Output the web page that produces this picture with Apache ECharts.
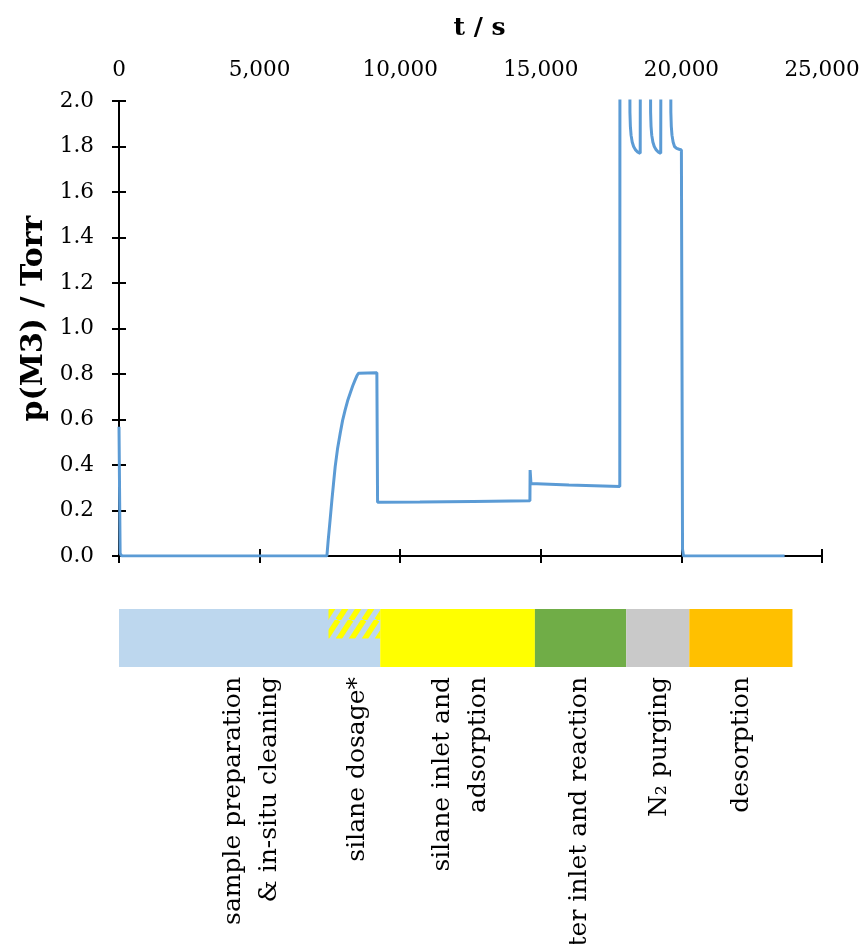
<!DOCTYPE html>
<html>
<head>
<meta charset="utf-8">
<script src="https://cdn.jsdelivr.net/npm/echarts@6/dist/echarts.min.js"></script>
<style>html,body{margin:0;padding:0;background:#fff}#chart{width:863px;height:944px}</style>
</head>
<body>
<div id="chart"></div>
<script>
// ---- data ----
const tData = [0, 40, 100, 7393, 7440, 7486, 7530, 7571, 7630, 7688, 7770, 7866, 7950, 8043, 8130, 8221, 8310, 8398, 8460, 8516,
  9170, 9195, 10700, 12600, 14613,
  14620, 14650, 14700, 14861, 16000, 17809,
  17815, 18160, 18170, 18185, 18210, 18250, 18300, 18370, 18450, 18535,
  18545, 18895, 18905, 18920, 18945, 18985, 19035, 19105, 19185, 19265,
  19275, 19615, 19625, 19640, 19665, 19705, 19755, 19830, 19920, 20000, 20040, 20075, 23670];
const pData = [0.568, 0.01, 0.0, 0.0, 0.07, 0.13, 0.19, 0.246, 0.32, 0.393, 0.47, 0.539, 0.595, 0.642, 0.682, 0.715, 0.747, 0.774, 0.792, 0.803,
  0.805, 0.236, 0.237, 0.240, 0.243,
  0.378, 0.318, 0.320, 0.318, 0.312, 0.305,
  2.6, 2.6, 1.95, 1.89, 1.85, 1.82, 1.80, 1.785, 1.775, 1.770,
  2.6, 2.6, 1.95, 1.89, 1.85, 1.82, 1.80, 1.785, 1.775, 1.770,
  2.6, 2.6, 1.95, 1.89, 1.85, 1.82, 1.80, 1.792, 1.788, 1.785, 0.03, 0.0, 0.0];

const xTicks = [0, 5000, 10000, 15000, 20000, 25000];
const yTicks = [0.0, 0.2, 0.4, 0.6, 0.8, 1.0, 1.2, 1.4, 1.6, 1.8, 2.0];

const phaseStart = [0, 9290, 14790, 18040, 20280];
const phaseEnd = [9290, 14790, 18040, 20280, 23950];
const phaseColors = ['#BDD7EE', '#FFFF00', '#70AD47', '#C9C9C9', '#FFC000'];
const hatchStart = [7450];
const hatchEnd = [9290];

const labelText = ['sample preparation\n& in-situ cleaning', 'silane dosage*', 'silane inlet and\nadsorption',
  'water inlet and reaction', 'N\u2082 purging', 'desorption'];
const labelPos = [4710, 8470, 12130, 16390, 19230, 22140];

// ---- hatch pattern ----
function makeHatch() {
  const W = 13, H = 20;
  const c = document.createElement('canvas');
  c.width = W; c.height = H;
  const g = c.getContext('2d');
  g.fillStyle = '#BDD7EE';
  g.fillRect(0, 0, W, H);
  g.strokeStyle = '#FFFF00';
  g.lineWidth = 5.5;
  for (let k = -1; k <= 1; k++) {
    g.beginPath();
    g.moveTo(k * W, H);
    g.lineTo(k * W + W, 0);
    g.stroke();
  }
  return c;
}
const hatchPattern = { image: makeHatch(), repeat: 'repeat' };

const FONT = 'DejaVu Serif';
const chart = echarts.init(document.getElementById('chart'), null, { renderer: 'canvas' });
const axisLineStyle = { color: '#000', width: 2 };
const tickStyle = { show: true, length: 7, lineStyle: { color: '#000', width: 2 } };

chart.setOption({
  backgroundColor: '#fff',
  animation: false,
  grid: [
    { left: 119, right: 41, top: 101, bottom: 388, containLabel: false, outerBoundsMode: 'none' },
    { left: 119, right: 41, top: 609, height: 58, containLabel: false, outerBoundsMode: 'none' }
  ],
  xAxis: [
    {
      gridIndex: 0, type: 'value', position: 'top', min: xTicks[0], max: xTicks[xTicks.length - 1], interval: 5000,
      name: 't / s', nameLocation: 'middle', nameGap: 60,
      nameTextStyle: { fontFamily: FONT, fontWeight: 'bold', fontSize: 25, color: '#000', padding: [0, 0, 0, 18] },
      axisLine: { show: true, lineStyle: axisLineStyle }, axisTick: tickStyle, splitLine: { show: false },
      axisLabel: { fontFamily: FONT, fontSize: 21.5, color: '#000', margin: 20,
        formatter: v => v.toLocaleString('en-US') }
    },
    {
      gridIndex: 0, type: 'value', position: 'bottom', min: 0, max: 25000, interval: 5000,
      axisLine: { show: true, lineStyle: axisLineStyle }, axisTick: tickStyle, splitLine: { show: false },
      axisLabel: { show: false }
    },
    { gridIndex: 1, type: 'value', min: 0, max: 25000, show: false }
  ],
  yAxis: [
    {
      gridIndex: 0, type: 'value', position: 'left', min: 0, max: 2, interval: 0.2,
      name: 'p(M3) / Torr', nameLocation: 'middle', nameGap: 70,
      nameTextStyle: { fontFamily: FONT, fontWeight: 'bold', fontSize: 30, color: '#000', padding: [0, 0, 0, 20] },
      axisLine: { show: true, lineStyle: axisLineStyle }, axisTick: tickStyle, splitLine: { show: false },
      axisLabel: { fontFamily: FONT, fontSize: 21.5, color: '#000', margin: 25,
        formatter: v => v.toFixed(1) }
    },
    {
      gridIndex: 0, type: 'value', position: 'right', min: 0, max: 2, interval: 0.2,
      axisLine: { show: true, lineStyle: axisLineStyle }, axisTick: tickStyle, splitLine: { show: false },
      axisLabel: { show: false }
    },
    { gridIndex: 1, type: 'value', min: 0, max: 1, show: false }
  ],
  series: [
    {
      type: 'line', xAxisIndex: 0, yAxisIndex: 0, showSymbol: false, symbol: 'none', clip: true,
      lineStyle: { color: '#5B9BD5', width: 3 }, silent: true,
      data: tData.map((t, i) => [t, pData[i]])
    },
    {
      type: 'custom', xAxisIndex: 2, yAxisIndex: 2, silent: true,
      data: phaseStart.map((s, i) => [s, phaseEnd[i], i]),
      renderItem: (params, api) => {
        const p0 = api.coord([api.value(0), 1]);
        const p1 = api.coord([api.value(1), 0]);
        return { type: 'rect', shape: { x: p0[0], y: p0[1], width: p1[0] - p0[0], height: p1[1] - p0[1] },
          style: { fill: phaseColors[api.value(2)] } };
      }
    },
    {
      type: 'custom', xAxisIndex: 2, yAxisIndex: 2, silent: true, z: 3,
      data: hatchStart.map((s, i) => [s, hatchEnd[i]]),
      renderItem: (params, api) => {
        const p0 = api.coord([api.value(0), 1]);
        const p1 = api.coord([api.value(1), 0.49]);
        return { type: 'rect', shape: { x: p0[0], y: p0[1], width: p1[0] - p0[0], height: p1[1] - p0[1] },
          style: { fill: hatchPattern } };
      }
    },
    {
      type: 'custom', xAxisIndex: 2, yAxisIndex: 2, silent: true, z: 4,
      data: labelPos.map((t, i) => [t, i]),
      renderItem: (params, api) => {
        const p = api.coord([api.value(0), 0]);
        return { type: 'text', x: p[0], y: p[1] + 10, rotation: Math.PI / 2,
          style: { text: labelText[api.value(1)], fontFamily: FONT, fontSize: 25, fill: '#000',
            align: 'right', verticalAlign: 'middle', textAlign: 'right', textVerticalAlign: 'middle', lineHeight: 36 } };
      }
    }
  ]
});
</script>
</body>
</html>
